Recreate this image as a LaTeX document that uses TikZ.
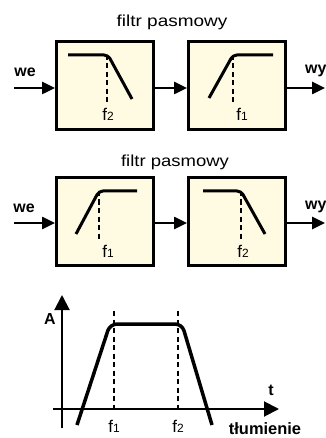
\documentclass[tikz,border=0pt]{standalone}
\usepackage{fontspec}
\setmainfont{Liberation Sans}
\usetikzlibrary{arrows.meta}
\definecolor{boxfill}{RGB}{255,250,226}
\newcommand\freqlab[2]{#1{\fontsize{12}{12}\selectfont #2}}
\begin{document}
\begin{tikzpicture}[x=1bp,y=-1bp,
  fbox/.style={draw=black, line width=3bp, fill=boxfill, minimum width=97bp, minimum height=88bp, inner sep=0pt},
  sig/.style={line width=2.5bp, -{Triangle[length=13bp,width=12bp]}},
  resp/.style={line width=3bp, rounded corners=4bp},
  guide/.style={line width=1.1bp, dash pattern=on 5bp off 3.5bp},
  axisline/.style={line width=2bp, -{Triangle[length=15bp,width=15bp]}},
  boldlab/.style={font=\fontsize{16}{16}\selectfont\bfseries, inner sep=0pt, anchor=base},
  flab/.style={font=\fontsize{17}{17}\selectfont, inner sep=0pt, anchor=base},
  title/.style={font=\fontsize{16}{16}\selectfont, inner sep=0pt, anchor=base},
]
\useasboundingbox (0,0) rectangle (325,438);

% ---------- row 1 ----------
\node[title] (t1) at (172,27) {\scalebox{1.19}[1]{filtr pasmowy}};
\node[fbox] (a1) at (105,86) {};
\node[fbox] (a2) at (237,86) {};
\coordinate (in1) at (14,88);
\coordinate (out1) at (325,88);
\draw[sig] (in1) -- (in1 -| a1.west);
\draw[sig] (a1.east |- in1) -- (a2.west |- in1);
\draw[sig] (a2.east |- out1) -- (out1);
\node[boldlab] (we1) at (25,77) {we};
\node[boldlab, anchor=base west] (wy1) at (305,74) {wy};
% low-pass
\draw[resp] (68,55) -- (108,55) -- (132,99);
\draw[guide] (107,55) -- (107,103);
\node[flab] (f2a) at (108,121) {\freqlab{f}{2}};
% high-pass
\draw[resp] (209,98) -- (233,55) -- (273,55);
\draw[guide] (233,55) -- (233,103);
\node[flab] (f1a) at (242,121) {\freqlab{f}{1}};

% ---------- row 2 ----------
\node[title] (t2) at (175,167) {\scalebox{1.16}[1]{filtr pasmowy}};
\node[fbox] (b1) at (105,221.5) {};
\node[fbox] (b2) at (237,221.5) {};
\coordinate (in2) at (14,223);
\coordinate (out2) at (325,223);
\draw[sig] (in2) -- (in2 -| b1.west);
\draw[sig] (b1.east |- in2) -- (b2.west |- in2);
\draw[sig] (b2.east |- out2) -- (out2);
\node[boldlab] (we2) at (24,213) {we};
\node[boldlab, anchor=base west] (wy2) at (305,210) {wy};
% high-pass
\draw[resp] (76,234) -- (99,191) -- (137,191);
\draw[guide] (99,191) -- (99,239);
\node[flab] (f1b) at (108,257) {\freqlab{f}{1}};
% low-pass
\draw[resp] (203,191) -- (241,191) -- (265,234);
\draw[guide] (241,191) -- (241,239);
\node[flab] (f2b) at (243,257) {\freqlab{f}{2}};

% ---------- graph ----------
\coordinate (yb) at (62,428);
\coordinate (yt) at (62,295);
\coordinate (xl) at (53,409);
\coordinate (xr) at (279,409);
\draw[axisline] (yb) -- (yt);
\draw[axisline] (xl) -- (xr);
\draw[guide] (114,311) -- (114,409);
\draw[guide] (178,311) -- (178,409);
\draw[line width=3.5bp, rounded corners=7bp] (77,425) -- (110,324) -- (182,324) -- (212,425);
\node[boldlab] (A) at (50,324) {A};
\node[boldlab] (t) at (271,395) {t};
\node[boldlab, font=\fontsize{16.5}{16.5}\selectfont\bfseries] (tl) at (265,434) {tłumienie};
\node[flab] (gf1) at (114,432) {\freqlab{f}{1}};
\node[flab] (gf2) at (178,432) {\freqlab{f}{2}};
\end{tikzpicture}
\end{document}
